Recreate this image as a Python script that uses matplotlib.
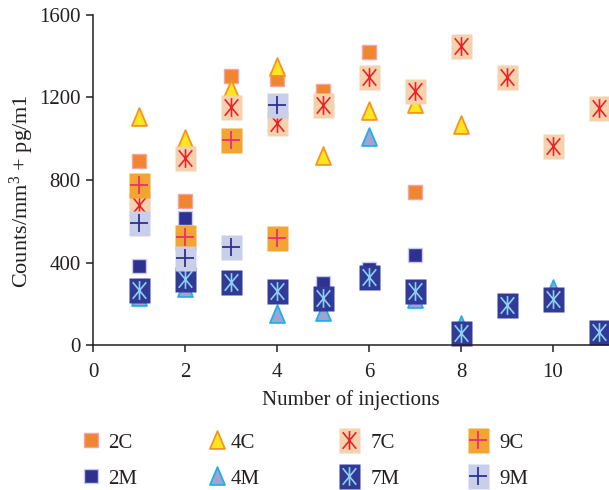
import matplotlib
matplotlib.use("Agg")
import matplotlib.pyplot as plt
from matplotlib.path import Path

plt.rcParams['font.family'] = ['Liberation Serif', 'DejaVu Serif']
plt.rcParams['mathtext.fontset'] = 'custom'
plt.rcParams['mathtext.rm'] = 'Liberation Serif'
plt.rcParams['mathtext.it'] = 'Liberation Serif:italic'
plt.rcParams['mathtext.bf'] = 'Liberation Serif:bold'

# ---------------- data ----------------
c2_x = [1, 2, 3, 4, 5, 6, 7]
c2_y = [890, 700, 1305, 1290, 1232, 1420, 740]
m2_x = [1, 2, 4, 5, 6, 7]
m2_y = [385, 618, 280, 300, 370, 438]
c4_x = [1, 2, 3, 4, 5, 6, 7, 8]
c4_y = [1105, 1000, 1240, 1350, 915, 1135, 1170, 1065]
m4_x = [1, 2, 4, 5, 6, 7, 8, 10]
m4_y = [235, 275, 150, 160, 1010, 223, 97, 272]
c7_x = [1, 2, 3, 4, 5, 6, 7, 8, 9, 10, 11]
c7_y = [680, 905, 1155, 1078, 1162, 1298, 1232, 1450, 1298, 965, 1150]
m7_x = [1, 2, 3, 4, 5, 6, 7, 8, 9, 10, 11]
m7_y = [265, 318, 305, 262, 228, 330, 262, 58, 195, 225, 62]
c9_x = [1, 2, 3, 4]
c9_y = [776, 524, 994, 519]
m9_x = [1, 2, 3, 4]
m9_y = [592, 422, 475, 1164]

x_ticks = [0, 2, 4, 6, 8, 10]
y_ticks = [0, 400, 800, 1200, 1600]

# ---------------- marker shapes ----------------
rect = Path([(-0.42, -0.5), (0.42, -0.5), (0.42, 0.5), (-0.42, 0.5), (-0.42, -0.5)],
            [Path.MOVETO, Path.LINETO, Path.LINETO, Path.LINETO, Path.CLOSEPOLY])
tri = Path([(0, 1), (-0.8, -0.9), (0.8, -0.9), (0, 1)],
           [Path.MOVETO, Path.LINETO, Path.LINETO, Path.CLOSEPOLY])
ast = Path([(0, 1), (0, -1), (-0.72, 0.88), (0.72, -0.88), (0.72, 0.88), (-0.72, -0.88)],
           [Path.MOVETO, Path.LINETO, Path.MOVETO, Path.LINETO, Path.MOVETO, Path.LINETO])

fig = plt.figure(figsize=(6.09, 4.90), dpi=100)
W, H = 609, 490
ax = fig.add_axes([93 / W, 1 - 345 / H, (609 - 93) / W, (345 - 15) / H])
ax.set_xlim(0, (609 - 93) / 46.0)
ax.set_ylim(0, 1600)

BIG = 18
SYM = 13.5
TXT = '#231F20'

def small_sq(x, y, face, edge):
    return ax.plot(x, y, ls='none', marker='s', ms=9.5, mfc=face, mec=edge, mew=1.0,
                   clip_on=False)[0]

def triangle(x, y, face, edge):
    return ax.plot(x, y, ls='none', marker=tri, ms=13.5, mfc=face, mec=edge, mew=1.3,
                   clip_on=False)[0]

def boxed(x, y, bg, sym, col):
    b = ax.plot(x, y, ls='none', marker=rect, ms=BIG, mfc=bg, mec='none', clip_on=False)[0]
    if sym == 'ast':
        s = ax.plot(x, y, ls='none', marker=ast, ms=SYM, mfc='none', mec=col, mew=1.2,
                    clip_on=False)[0]
    else:
        s = ax.plot(x, y, ls='none', marker='+', ms=12.5, mec=col, mew=1.3,
                    clip_on=False)[0]
    return b, s

h2c = small_sq(c2_x, c2_y, '#F0862F', '#F5A3A8')
h2m = small_sq(m2_x, m2_y, '#2E3192', '#C8CCE6')
h4c = triangle(c4_x, c4_y, '#FFE620', '#F7941D')
h4m = triangle(m4_x, m4_y, '#9EA3CF', '#1FB0EC')
h7c = boxed(c7_x, c7_y, '#F5D2AE', 'ast', '#EC2227')
h7m = boxed(m7_x, m7_y, '#323A98', 'ast', '#8DCFF0')
h9c = boxed(c9_x, c9_y, '#F2A531', 'plus', '#EC2E7B')
h9m = boxed(m9_x, m9_y, '#C9CFE8', 'plus', '#2E3192')

# ---------------- axes styling ----------------
for s in ['top', 'right']:
    ax.spines[s].set_visible(False)
for s in ['left', 'bottom']:
    ax.spines[s].set_color(TXT)
    ax.spines[s].set_linewidth(1.1)
ax.set_xticks(x_ticks)
ax.set_yticks(y_ticks)
ax.tick_params(direction='out', length=5, width=1.1, color=TXT,
               labelsize=15, labelcolor=TXT)
ax.tick_params(axis='x', pad=8)
ax.tick_params(axis='y', pad=4)
ax.set_xlabel('Number of injections', fontsize=15, color=TXT, labelpad=6)
ax.set_ylabel(r'Counts/mm$^{3}$ + pg/m1', fontsize=16, color=TXT)
ax.yaxis.set_label_coords(-0.110, 0.465)

# ---------------- legend (four columns) ----------------
cols = [((h2c,), (h2m,), '2C', '2M', 91, 0.32),
        ((h4c,), (h4m,), '4C', '4M', 217, 0.17),
        (h7c, h7m, '7C', '7M', 349, 0.56),
        (h9c, h9m, '9C', '9M', 478, 0.51)]
for top, bot, lt, lb, cx, tp in cols:
    leg = fig.legend([tuple(top), tuple(bot)], [lt, lb],
                     loc='upper left', bbox_to_anchor=((cx - 10.4) / W, 1 - 433 / H),
                     frameon=False, fontsize=15, handlelength=1.0, handletextpad=tp,
                     labelspacing=0.79, borderaxespad=0, borderpad=0)
    for t in leg.get_texts():
        t.set_color(TXT)

fig.savefig('out.png', dpi=100)
